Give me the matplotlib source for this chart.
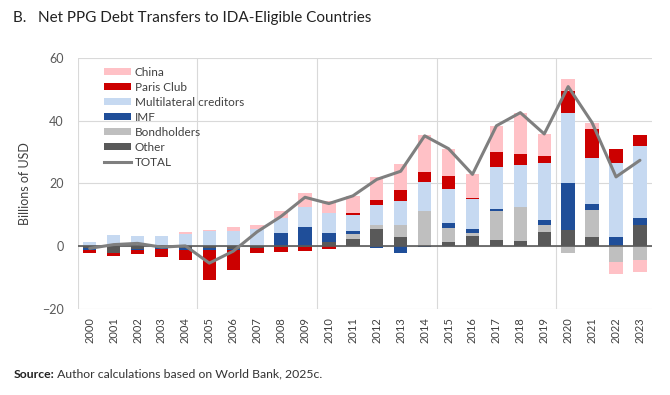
import numpy as np
import matplotlib
matplotlib.use('Agg')
import matplotlib.pyplot as plt
from matplotlib.patches import Patch
from matplotlib.lines import Line2D

plt.rcParams['font.family'] = ['Lato', 'DejaVu Sans']

years = [str(y) for y in range(2000, 2024)]

# values in billions of USD
other = [-0.6, -2.1, -0.9, -0.4, -0.6, -0.7, -0.8, -0.6, -0.4, -0.3,
         1.4, 2.4, 5.6, 3.0, 0.0, 1.3, 3.2, 2.1, 1.6, 4.5,
         5.1, 2.9, 0.0, 6.6]
bondholders = [0, 0, 0, 0, 0, 0, 0, 0, 0, 0,
               0, 1.5, 1.3, 3.6, 11.3, 4.6, 1.1, 9.1, 10.9, 2.2,
               -2.3, 8.8, -5.0, -4.3]
imf = [-0.7, 0, -0.2, -0.4, -0.7, -0.6, -0.5, 0, 4.3, 6.2,
       2.7, 0.85, -0.7, -2.3, -0.3, 1.5, 1.1, 0.6, 0, 1.5,
       14.9, 1.8, 3.0, 2.4]
multilateral = [1.4, 3.6, 3.4, 3.2, 4.0, 4.8, 4.8, 5.5, 4.6, 6.3,
                6.6, 5.3, 6.3, 7.8, 9.3, 10.7, 9.6, 13.3, 13.4, 18.4,
                22.6, 14.7, 23.6, 22.9]
paris_club = [-0.8, -1.0, -1.4, -2.7, -3.0, -9.4, -6.4, -1.7, -1.4, -1.1,
              -0.9, 0.4, 1.4, 3.6, 3.0, 4.3, 0.5, 5.0, 3.6, 2.1,
              6.9, 9.3, 4.5, 3.6]
china = [0, 0, 0, 0, 0.4, 0.5, 1.3, 1.4, 2.4, 4.5,
         3.8, 5.6, 7.4, 8.2, 11.9, 8.7, 7.4, 8.3, 13.1, 7.1,
         3.7, 1.9, -4.0, -3.8]

series = [
    ('Other', other, '#595959'),
    ('Bondholders', bondholders, '#BFBFBF'),
    ('IMF', imf, '#1F4E99'),
    ('Multilateral creditors', multilateral, '#C6D9F1'),
    ('Paris Club', paris_club, '#CC0000'),
    ('China', china, '#FFC1C6'),
]

x = np.arange(len(years))
total = np.sum([np.array(s[1]) for s in series], axis=0)

fig = plt.figure(figsize=(6.7, 3.95), dpi=100)
ax = fig.add_axes([0.116, 0.218, 0.857, 0.635])

pos_base = np.zeros(len(years))
neg_base = np.zeros(len(years))
for name, vals, col in series:
    v = np.array(vals, dtype=float)
    pos = np.where(v > 0, v, 0)
    neg = np.where(v < 0, v, 0)
    ax.bar(x, pos, 0.56, bottom=pos_base, color=col, zorder=2)
    ax.bar(x, neg, 0.56, bottom=neg_base, color=col, zorder=2)
    pos_base += pos
    neg_base += neg

ax.axhline(0, color='#595959', lw=1.2, zorder=3)
ax.plot(x, total, color='#7F7F7F', lw=2.2, zorder=4, solid_capstyle='round')

ax.set_xlim(-0.5, 23.5)
ax.set_ylim(-20, 60)
ax.set_yticks([-20, 0, 20, 40, 60])
ax.set_xticks(x)
ax.set_xticklabels(years, rotation=90, fontsize=8, color='#404040')
ax.set_xticks([-0.5, 4.5, 9.5, 14.5, 19.5], minor=True)
ax.tick_params(axis='both', which='both', length=0)
ax.tick_params(axis='y', labelsize=9, labelcolor='#595959', pad=10)
ax.tick_params(axis='x', pad=6)
ax.grid(axis='y', which='major', color='#D9D9D9', lw=0.8, zorder=0)
ax.grid(axis='x', which='minor', color='#D9D9D9', lw=0.8, zorder=0)
for s in ax.spines.values():
    s.set_visible(False)

ax.set_ylabel('Billions of USD', fontsize=9, color='#404040', labelpad=8)

handles = [Patch(facecolor=c, label=n) for n, v, c in series[::-1]]
handles.append(Line2D([0], [0], color='#7F7F7F', lw=2.2, label='TOTAL'))
leg = ax.legend(handles=handles, loc='upper left', bbox_to_anchor=(0.038, 0.985),
                frameon=False, fontsize=8.5, handlelength=2.3, handleheight=0.45,
                labelspacing=0.34, handletextpad=0.3, borderaxespad=0)
for t in leg.get_texts():
    t.set_color('#404040')

fig.text(0.02, 0.955, 'B.   Net PPG Debt Transfers to IDA-Eligible Countries',
         fontsize=11, color='#222222', va='center')

src = fig.text(0.02, 0.053, 'Source:', fontsize=8.8, fontweight='bold', color='#222222', va='center')
ax.annotate(' Author calculations based on World Bank, 2025c.', xy=(1, 0.5), xycoords=src,
            va='center', ha='left', fontsize=8.8, color='#333333', annotation_clip=False)

fig.savefig('out.png', dpi=100)
